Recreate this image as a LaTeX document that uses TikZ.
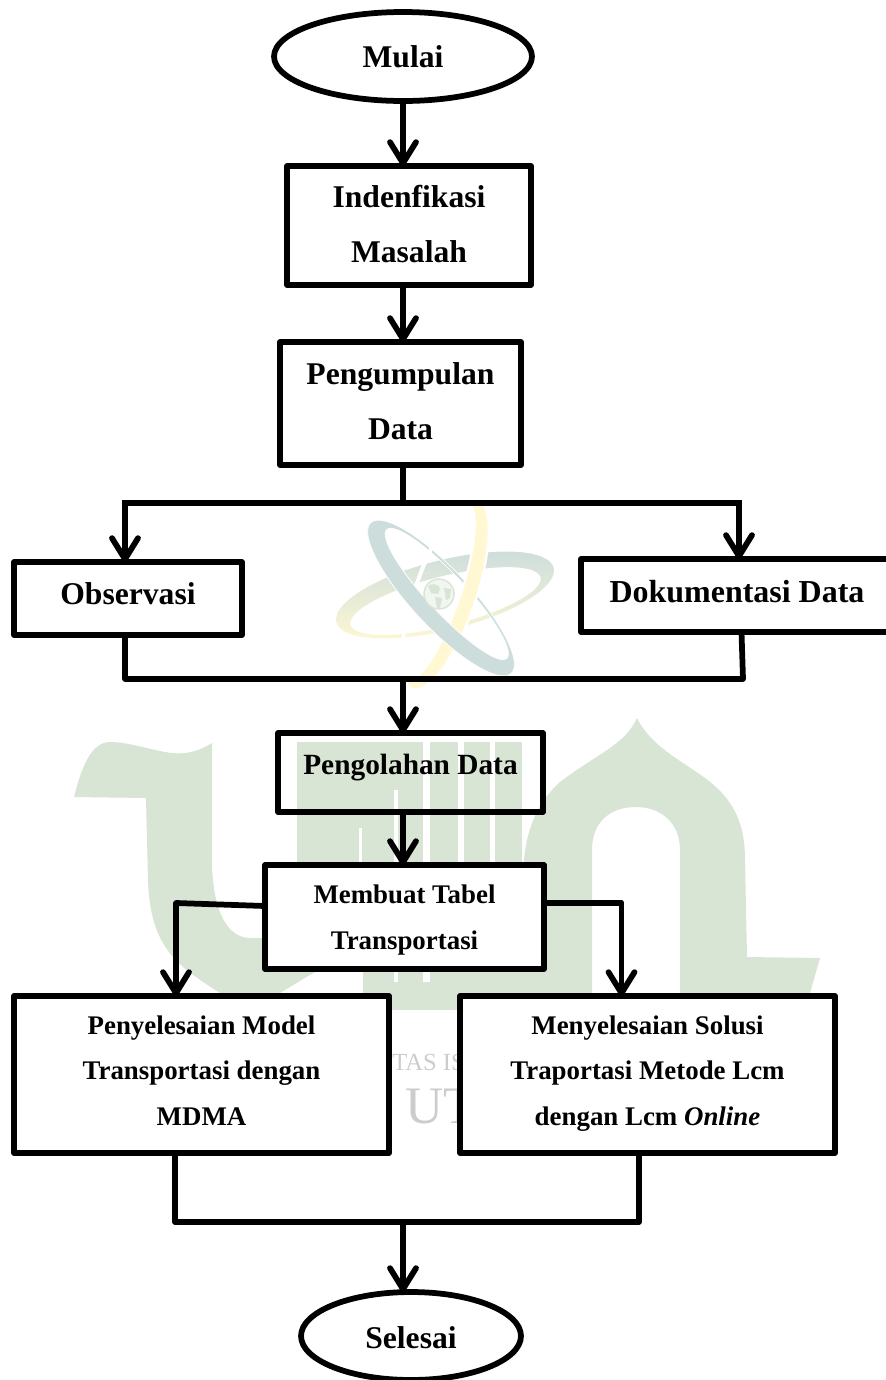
\documentclass[tikz,border=0pt]{standalone}
\usepackage{fontspec}
\setmainfont{Liberation Serif}
\usetikzlibrary{shapes.geometric, arrows.meta}
\definecolor{logogreen}{HTML}{D8E4D4}
\definecolor{logoteal}{HTML}{CDDDDC}
\definecolor{logoyellow}{HTML}{FFF8D2}
\definecolor{logogray}{HTML}{CCCCCC}
\newcommand{\tealorbit}{(0,0) ellipse [x radius=103, y radius=29] (1,-7) ellipse [x radius=88, y radius=19]}
\newcommand{\yellloworbit}{(0,0) ellipse [x radius=100, y radius=31] (0,-7) ellipse [x radius=92, y radius=22]}
\begin{document}
\begin{tikzpicture}
    [
        x=0.02cm,
        y=-0.02cm,
        box/.style={rectangle, draw, line width=1.15mm, line join=round, outer sep=0pt, font=\fontsize{18}{31}\selectfont\bfseries, align=center},
        smallbox/.style={box, fill=white, font=\fontsize{15.3}{26}\selectfont\bfseries},
        oval/.style={ellipse, draw, line width=1.15mm, outer sep=0pt, inner sep=0pt, font=\fontsize{18}{31}\selectfont\bfseries},
        wire/.style={line width=1.15mm, line join=round},
        arrow/.style={wire, -{Straight Barb[length=4.2mm, width=5.2mm, round]}},
        orbit/.style={even odd rule, draw=white, line width=0.4pt},
        stamp/.style={anchor=base west, inner sep=0pt, text=logogray},
    ]
    \useasboundingbox (0,0) rectangle (886,1380);

    \fill [logogreen] (74,797) .. controls (82,765) and (92,742) .. (110,742)
        .. controls (135,742) and (165,756) .. (185,753) .. controls (195,752) and (204,748) .. (212,743)
        -- (212,860) .. controls (212,905) and (225,938) .. (250,938) -- (265,938) -- (315,972) -- (280,993)
        -- (220,993) .. controls (180,967) and (150,950) .. (148,880) -- (146,798) -- cycle;
    \fill [logogreen] (297,742) rectangle (522,965);
    \fill [logogreen] (363,960) rectangle (590,1000);
    \fill [logogreen] (380,1000) rectangle (470,1010);
    \fill [logogreen] (524,993) -- (524,860) .. controls (527,825) and (540,800) .. (560,782)
        .. controls (595,755) and (625,745) .. (637,718) .. controls (650,745) and (680,760) .. (705,778)
        .. controls (735,800) and (745,825) .. (745,860) -- (747,957) -- (820,958) -- (810,993) -- (680,993)
        -- (680,850) .. controls (680,822) and (660,807) .. (636,807) .. controls (610,807) and (592,822) .. (592,850)
        -- (592,993) -- cycle;
    \fill [white] (423,742) rectangle (430,982);
    \fill [white] (458,742) rectangle (464,972);
    \fill [white] (490,742) rectangle (495,972);
    \fill [white] (394,790) rectangle (398,982);
    \fill [white] (359,828) rectangle (362,972);

    \begin{scope}[shift={(445,595)}, rotate=14]
        \shade [even odd rule, top color=logoteal, middle color=logoteal, bottom color=logoyellow]
            (0,0) ellipse [x radius=112, y radius=35] (-1,6) ellipse [x radius=98, y radius=25];
    \end{scope}
    \begin{scope}[shift={(441,598)}, rotate=-47]
        \path [orbit, fill=logoteal] \tealorbit;
    \end{scope}
    \begin{scope}[shift={(445,594)}, rotate=71]
        \path [orbit, fill=logoyellow, line width=1.2pt] \yellloworbit;
    \end{scope}
    \begin{scope}[shift={(441,598)}, rotate=-47]
        \clip (-110,0) rectangle (110,50);
        \path [orbit, fill=logoteal] \tealorbit;
    \end{scope}
    \filldraw [fill=logogreen!35, draw=logogreen, line width=0.8pt] (439,594) circle [radius=15];
    \fill [logogreen] (428,586) .. controls (432,583) and (438,584) .. (440,588) -- (438,594) -- (431,593) -- cycle;
    \fill [logogreen] (435,597) -- (442,598) -- (440,608) -- (437,608) -- cycle;
    \fill [logogreen] (444,588) -- (451,589) -- (450,598) -- (446,600) -- cycle;

    \node (stampa) at (392,1070) [stamp, font=\fontsize{14}{18}\selectfont] {TAS IS};
    \node (stampb) at (405,1123) [stamp, font=\fontsize{30}{34}\selectfont] {UT};

    \node (mulai) at (403,56.5) [
        oval,
        minimum width=5.16cm,
        minimum height=1.78cm,
    ] {Mulai};
    \node (masalah) at (409,225.5) [
        box,
        minimum width=4.88cm,
        minimum height=2.38cm,
        text depth=2pt,
    ] {Indenfikasi\\Masalah};
    \node (kumpul) at (400.5,403.5) [
        box,
        minimum width=4.82cm,
        minimum height=2.46cm,
        text depth=3pt,
    ] {Pengumpulan\\Data};
    \node (observasi) at (128,598.5) [
        box,
        minimum width=4.56cm,
        minimum height=1.46cm,
        text depth=5.5pt,
    ] {Observasi};
    \node (dokumen) at (737,595.5) [
        box,
        minimum width=6.24cm,
        minimum height=1.46cm,
        text depth=4.3pt,
        font=\fontsize{18.2}{31}\selectfont\bfseries,
    ] {Dokumentasi Data};
    \node (olah) at (410.5,772.5) [
        box,
        minimum width=5.3cm,
        minimum height=1.58cm,
        text depth=9.5pt,
        font=\fontsize{16.7}{26}\selectfont\bfseries,
    ] {Pengolahan Data};
    \node (tabel) at (404.5,917) [
        smallbox,
        minimum width=5.58cm,
        minimum height=2.08cm,
        text depth=0pt,
    ] {Membuat Tabel\\Transportasi};
    \node (mdma) at (201.5,1074.5) [
        smallbox,
        minimum width=7.5cm,
        minimum height=3.14cm,
        text depth=4.4pt,
    ] {Penyelesaian Model\\Transportasi dengan\\MDMA};
    \node (lcm) at (647.5,1074.5) [
        smallbox,
        minimum width=7.5cm,
        minimum height=3.14cm,
        text depth=4.4pt,
    ] {Menyelesaian Solusi\\Traportasi Metode Lcm\\dengan Lcm \textit{Online}};
    \node (selesai) at (411,1336) [
        oval,
        minimum width=4.4cm,
        minimum height=1.76cm,
        text height=14.5pt,
    ] {Selesai};

    \coordinate (split) at (403,503);
    \coordinate (splitl) at (125,503);
    \coordinate (splitr) at (739,503);
    \coordinate (joinl) at (125,679);
    \coordinate (joinm) at (403,679);
    \coordinate (joinr) at (743,679);
    \coordinate (dokout) at (741.5,632);
    \coordinate (tabell) at (176,903);
    \coordinate (tabelr) at (621.5,903);
    \coordinate (tabelout) at (265,906);
    \coordinate (endl) at (175,1222);
    \coordinate (endm) at (403,1222);
    \coordinate (endr) at (639,1222);

    \draw [arrow] (mulai.south) -- (mulai.south |- masalah.north);
    \draw [arrow] (403,285) -- (403,342);
    \draw [wire] (403,465) -- (split);
    \draw [wire, line cap=rect] (splitl) -- (splitr);
    \draw [arrow] (splitl) -- (splitl |- observasi.north);
    \draw [arrow] (splitr) -- (splitr |- dokumen.north);
    \draw [wire] (joinl |- observasi.south) -- (joinl) -- (joinr) -- (dokout);
    \draw [arrow] (joinm) -- (joinm |- olah.north);
    \draw [arrow] (joinm |- olah.south) -- (joinm |- tabel.north);
    \draw [arrow] (tabelout) -- (tabell) -- (tabell |- mdma.north);
    \draw [arrow] (tabel.east |- tabelr) -- (tabelr) -- (tabelr |- lcm.north);
    \draw [wire] (endl |- mdma.south) -- (endl) -- (endr) -- (endr |- lcm.south);
    \draw [arrow] (endm) -- (endm |- selesai.north);
\end{tikzpicture}
\end{document}
